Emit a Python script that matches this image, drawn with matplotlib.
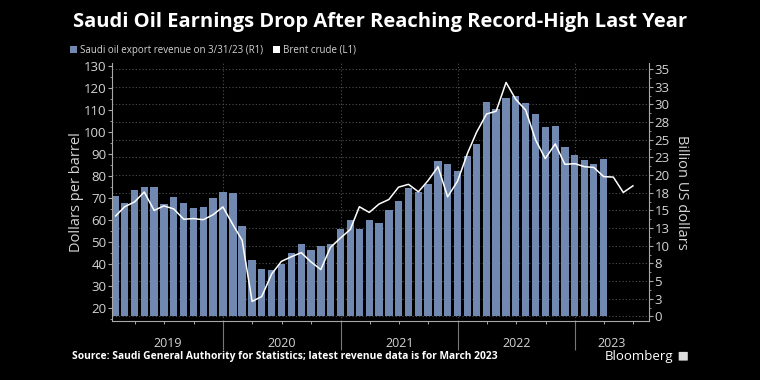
import numpy as np
import pandas as pd
import matplotlib
matplotlib.use('Agg')
import matplotlib.pyplot as plt
from matplotlib.dates import YearLocator, MonthLocator
from matplotlib.ticker import FuncFormatter, MultipleLocator, NullFormatter
from matplotlib.patches import Patch, FancyBboxPatch

# ---------------- data ----------------
revenue_months = pd.date_range('2019-01-31', periods=51, freq='ME')
revenue_bn = [
    17.0, 16.0, 17.9, 18.3, 18.3, 15.9, 16.9, 16.0, 15.4, 15.5, 16.7, 17.6,   # 2019
    17.5, 12.8, 8.0, 6.7, 6.5, 7.4, 9.0, 10.2, 9.4, 9.9, 10.2, 12.4,          # 2020
    13.6, 12.3, 13.7, 13.2, 15.1, 16.3, 18.2, 17.6, 18.7, 22.0, 21.6, 20.6,   # 2021
    22.7, 24.4, 30.3, 29.4, 30.9, 31.2, 30.2, 28.6, 26.8, 26.9, 24.0, 22.9,   # 2022
    22.1, 21.5, 22.3,                                                         # 2023
]
brent_months = pd.date_range('2019-01-31', periods=54, freq='ME')
brent_usd = [
    61.9, 66.1, 68.3, 72.8, 64.4, 66.5, 65.1, 60.4, 60.7, 60.2, 62.4, 66.0,   # 2019
    58.0, 50.8, 23.0, 25.2, 35.5, 41.2, 43.3, 45.2, 41.0, 37.5, 47.6, 51.8,   # 2020
    55.8, 66.1, 63.5, 67.3, 69.4, 75.0, 76.3, 72.9, 78.0, 84.3, 70.6, 77.8,   # 2021
    90.5, 100.0, 108.3, 109.6, 122.7, 115.0, 110.1, 96.5, 88.0, 94.7, 85.4, 85.7,  # 2022
    84.3, 84.0, 79.8, 79.6, 72.6, 75.6,                                       # 2023
]
years = [2019, 2020, 2021, 2022, 2023]

title = 'Saudi Oil Earnings Drop After Reaching Record-High Last Year'
legend_labels = ['Saudi oil export revenue on 3/31/23 (R1)', 'Brent crude (L1)']
source = 'Source: Saudi General Authority for Statistics; latest revenue data is for March 2023'

# ---------------- style ----------------
BG = '#000000'
BAR = '#7189b0'
TXT = '#d4d4d4'
AXC = '#a8a8a8'
GRID = '#505050'

plt.rcParams['font.family'] = ['Open Sans', 'DejaVu Sans']

fig = plt.figure(figsize=(7.6, 3.8), dpi=100, facecolor=BG)
ax = fig.add_axes([0.1471, 0.156, 0.7068, 0.678])
ax.set_facecolor(BG)
ax2 = ax.twinx()

# bars on right axis (R1)
ax.bar(revenue_months, revenue_bn, width=23, color=BAR, zorder=2)
ax.set_ylim(-0.62, 35.85)
ax.yaxis.tick_right()
ax.yaxis.set_label_position('right')
ax.set_yticks(np.arange(0, 35.01, 2.5))
ax.yaxis.set_major_formatter(FuncFormatter(lambda v, p: str(int(np.floor(v + 0.5)))))
ax.yaxis.set_minor_locator(MultipleLocator(1.25))
ax.tick_params(axis='y', which='major', colors=AXC, labelcolor=TXT, labelsize=9.5,
               length=3, width=0.8, pad=1)
ax.tick_params(axis='y', which='minor', colors=AXC, length=1.5, width=0.6)
ax.set_ylabel('Billion US dollars', rotation=270, color=TXT, fontsize=10.5, labelpad=14)
ax.grid(axis='y', which='major', linestyle=(0, (1, 2)), color=GRID, lw=0.8)
ax.set_axisbelow(True)

# x axis
x0, x1 = pd.Timestamp('2019-01-19'), pd.Timestamp('2023-08-19')
ax.set_xlim(x0, x1)
ax.xaxis.set_major_locator(YearLocator())
ax.xaxis.set_minor_locator(MonthLocator(bymonth=[1, 4, 7, 10]))
ax.xaxis.set_major_formatter(NullFormatter())
ax.tick_params(axis='x', which='major', colors='#777777', length=21, width=0.8)
ax.tick_params(axis='x', which='minor', colors=AXC, length=2.5, width=0.7)
ax.grid(axis='x', which='major', linestyle=(0, (1, 2)), color=GRID, lw=0.8)

for s in ['top', 'left']:
    ax.spines[s].set_visible(False)
for s in ['right', 'bottom']:
    ax.spines[s].set_color(AXC)
    ax.spines[s].set_linewidth(0.8)

# year labels
for yr in years:
    a = max(pd.Timestamp(f'{yr}-01-01'), x0)
    b = min(pd.Timestamp(f'{yr + 1}-01-01'), x1)
    mid = a + (b - a) / 2
    ax.text(mid, -0.087, str(yr), transform=ax.get_xaxis_transform(),
            ha='center', va='center', color=TXT, fontsize=9)

# line on left axis (L1)
ax2.plot(brent_months, brent_usd, color='white', lw=1.1, zorder=3)
ax2.set_ylim(14.2, 131.5)
ax2.yaxis.tick_left()
ax2.yaxis.set_label_position('left')
ax2.set_yticks(range(20, 131, 10))
ax2.yaxis.set_minor_locator(MultipleLocator(5))
ax2.tick_params(axis='y', which='major', colors=AXC, labelcolor=TXT, labelsize=9.5,
                length=3, width=0.8, pad=1)
ax2.tick_params(axis='y', which='minor', colors=AXC, length=1.5, width=0.6)
ax2.set_ylabel('Dollars per barrel', color=TXT, fontsize=10.5, labelpad=0)
for s in ['top', 'right', 'bottom']:
    ax2.spines[s].set_visible(False)
ax2.spines['left'].set_color(AXC)
ax2.spines['left'].set_linewidth(0.8)

# title
fig.text(0.5, 0.942, title, ha='center', va='center', color='white',
         fontsize=14.5, fontweight='bold')

# legend
handles = [Patch(facecolor=BAR, edgecolor='none'), Patch(facecolor='white', edgecolor='none')]
fig.legend(handles, legend_labels, loc='center left', bbox_to_anchor=(0.092, 0.868),
           ncol=2, frameon=False, fontsize=7, labelcolor=TXT, handlelength=0.75,
           handleheight=0.75, handletextpad=0.3, columnspacing=1.0, borderpad=0,
           borderaxespad=0)

# source and brand
fig.text(0.0947, 0.061, source, ha='left', va='center', color='white',
         fontsize=7.35, fontweight='bold')
fig.text(0.886, 0.061, 'Bloomberg', ha='right', va='center', color='white', fontsize=9.5)
fig.patches.append(FancyBboxPatch((0.894, 0.052), 0.010, 0.021, boxstyle='round,pad=0.001',
                                  transform=fig.transFigure, facecolor='#dddddd',
                                  edgecolor='none', figure=fig))

fig.savefig('out.png', dpi=100, facecolor=BG)
